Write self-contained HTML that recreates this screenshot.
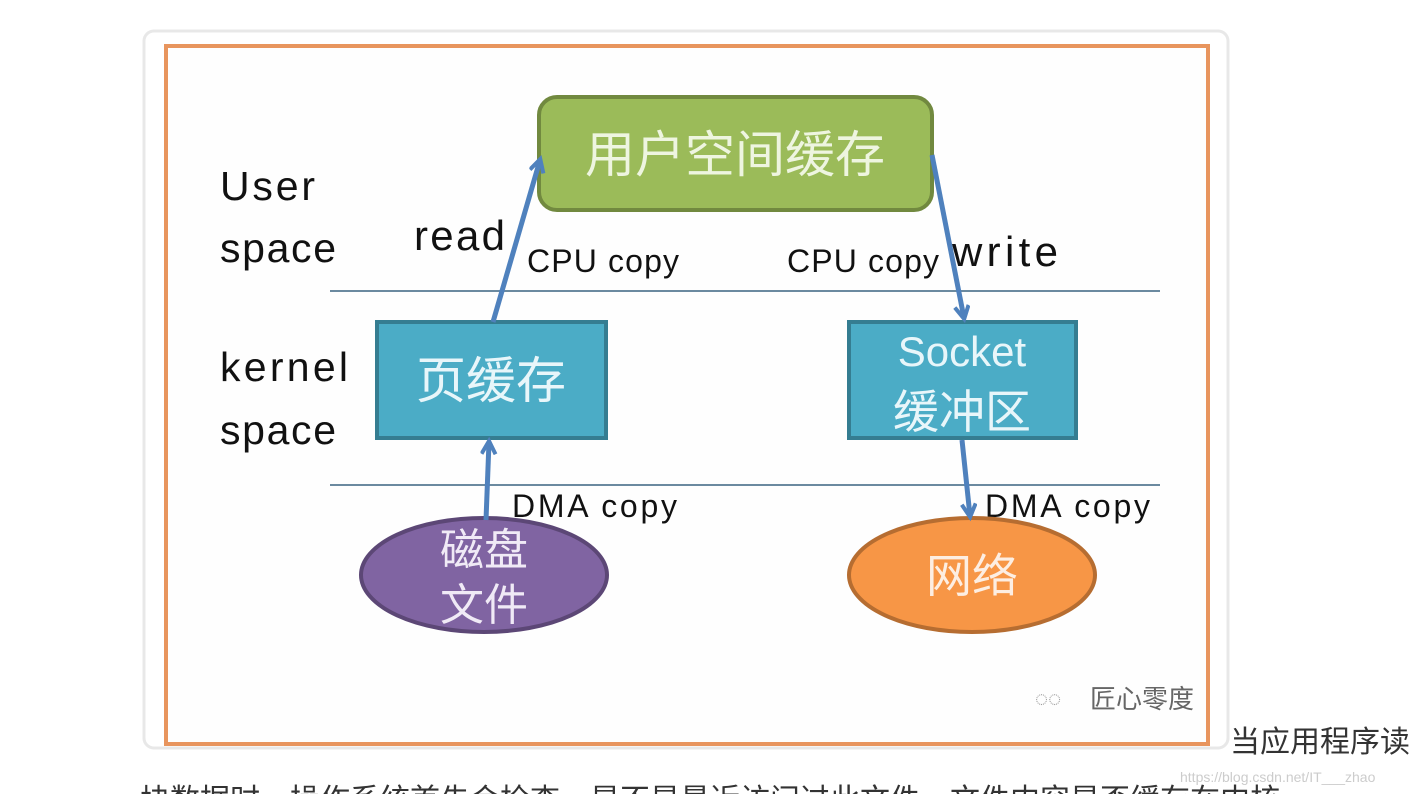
<!DOCTYPE html>
<html><head><meta charset="utf-8"><style>
html,body{margin:0;padding:0;background:#fff;width:1410px;height:794px;overflow:hidden}
</style></head><body>
<svg width="1410" height="794" xmlns="http://www.w3.org/2000/svg" style="position:absolute;left:0;top:0">
<defs><marker id="a" markerWidth="20" markerHeight="20" refX="13" refY="8" orient="auto" markerUnits="userSpaceOnUse"><path d="M1,1 L14,8 L1,15" fill="none" stroke="#4f81bd" stroke-width="4"/></marker></defs>
<rect x="144" y="31" width="1084" height="717" rx="10" fill="#fff" stroke="#e8e8e8" stroke-width="3"/>
<rect x="166" y="46" width="1042" height="698" fill="#fefefe" stroke="#e8955e" stroke-width="4"/>
<g font-family="Liberation Sans, sans-serif" fill="#111">
<text x="220" y="200" font-size="41" textLength="95">User</text>
<text x="220" y="262" font-size="41" textLength="116">space</text>
<text x="220" y="381" font-size="41" textLength="128">kernel</text>
<text x="220" y="444" font-size="41" textLength="116">space</text>
<text x="414" y="250" font-size="42" textLength="91">read</text>
<text x="952" y="266" font-size="42" textLength="106">write</text>
<text x="527" y="272" font-size="32" textLength="152">CPU copy</text>
<text x="787" y="272" font-size="32" textLength="152">CPU copy</text>
<text x="512" y="517" font-size="32" textLength="165">DMA copy</text>
<text x="985" y="517" font-size="32" textLength="165">DMA copy</text>
</g>
<line x1="330" y1="291" x2="1160" y2="291" stroke="#6b8aa0" stroke-width="2"/>
<line x1="330" y1="485" x2="1160" y2="485" stroke="#6b8aa0" stroke-width="2"/>
<rect x="539" y="97" width="393" height="113" rx="18" fill="#9bbb59" stroke="#71893f" stroke-width="4"/>
<text x="735" y="172" font-size="50" fill="#eef5e0" text-anchor="middle" font-family="Noto Sans CJK SC, sans-serif">用户空间缓存</text>
<rect x="377" y="322" width="229" height="116" fill="#4bacc6" stroke="#357d91" stroke-width="4"/>
<text x="491" y="398" font-size="50" fill="#e8f6fa" text-anchor="middle" font-family="Noto Sans CJK SC, sans-serif">页缓存</text>
<rect x="849" y="322" width="227" height="116" fill="#4bacc6" stroke="#357d91" stroke-width="4"/>
<text x="962" y="366" font-size="42" fill="#e8f6fa" text-anchor="middle" font-family="Liberation Sans, sans-serif">Socket</text>
<text x="962" y="428" font-size="46" fill="#e8f6fa" text-anchor="middle" font-family="Noto Sans CJK SC, sans-serif">缓冲区</text>
<ellipse cx="484" cy="575" rx="123" ry="57" fill="#8064a2" stroke="#5c4776" stroke-width="4"/>
<text x="484" y="565" font-size="44" fill="#f0eaf6" text-anchor="middle" font-family="Noto Sans CJK SC, sans-serif">磁盘</text>
<text x="484" y="620" font-size="44" fill="#f0eaf6" text-anchor="middle" font-family="Noto Sans CJK SC, sans-serif">文件</text>
<ellipse cx="972" cy="575" rx="123" ry="57" fill="#f79646" stroke="#b66d31" stroke-width="4"/>
<text x="972" y="592" font-size="46" fill="#fdeee2" text-anchor="middle" font-family="Noto Sans CJK SC, sans-serif">网络</text>
<g stroke="#4f81bd" stroke-width="5" fill="none">
<line x1="493" y1="322" x2="540" y2="160" marker-end="url(#a)"/>
<line x1="932" y1="155" x2="964" y2="318" marker-end="url(#a)"/>
<line x1="486" y1="520" x2="489" y2="442" marker-end="url(#a)"/>
<line x1="962" y1="440" x2="970" y2="516" marker-end="url(#a)"/>
</g>
<text x="1035" y="706" font-size="22" fill="#999">◌◌</text>
<text x="1090" y="708" font-size="26" fill="#666" font-family="Noto Sans CJK SC, sans-serif">匠心零度</text>
<text x="1230" y="752" font-size="30" fill="#333" font-family="Liberation Sans, Noto Sans CJK SC, sans-serif">当应用程序读</text>
<text x="140" y="810" font-size="30" fill="#333" font-family="Liberation Sans, Noto Sans CJK SC, sans-serif">块数据时，操作系统首先会检查，是不是最近访问过此文件，文件内容是否缓存在内核</text>
<text x="1180" y="782" font-size="14" fill="#ccc" font-family="Liberation Sans, sans-serif">https://blog.csdn.net/IT___zhao</text>
</svg>
</body></html>
